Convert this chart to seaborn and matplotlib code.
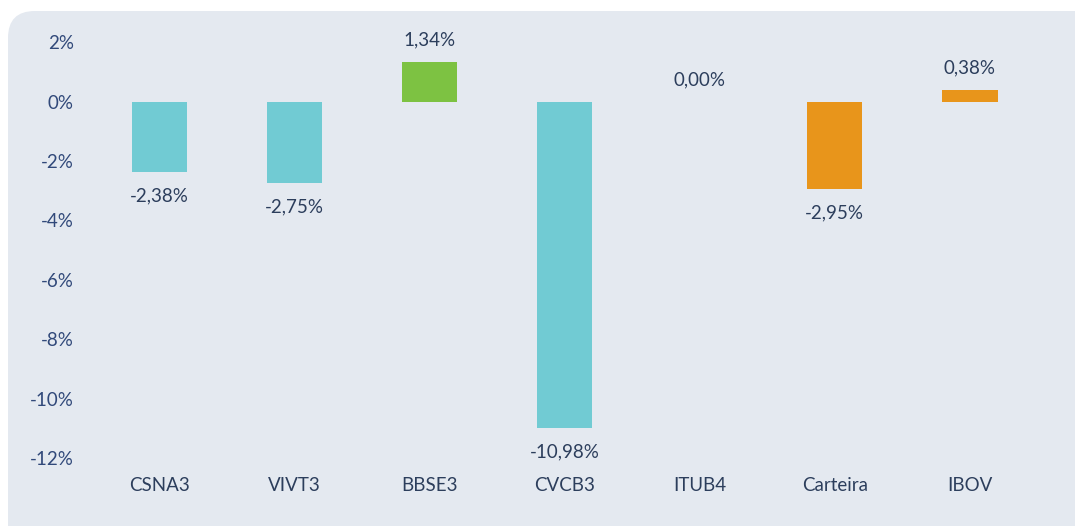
import matplotlib
matplotlib.use("Agg")
import matplotlib.pyplot as plt
from matplotlib.patches import FancyBboxPatch
import pandas as pd
import seaborn as sns

# data
tickers = ["CSNA3", "VIVT3", "BBSE3", "CVCB3", "ITUB4", "Carteira", "IBOV"]
returns = [-2.38, -2.75, 1.34, -10.98, 0.00, -2.95, 0.38]
bar_colors = ["#71CBD3", "#71CBD3", "#7DC242", "#71CBD3", "#71CBD3", "#E8951B", "#E8951B"]
y_ticks = [2, 0, -2, -4, -6, -8, -10, -12]

TEXT = "#2C3E5C"
TICK = "#31497A"
PANEL = "#E4E9F0"

sns.set_theme(style="white")
plt.rcParams["font.family"] = ["Lato", "DejaVu Sans"]

df = pd.DataFrame({"ticker": tickers, "ret": returns})

fig = plt.figure(figsize=(10.75, 5.26), dpi=100)
fig.patch.set_facecolor("white")

# rounded grey panel behind the chart
W, H = 1075, 526
panel = FancyBboxPatch((8 / W, -0.05), 1.1, 1 - 11 / H + 0.05,
                       boxstyle="round,pad=0,rounding_size=0.025",
                       transform=fig.transFigure, facecolor=PANEL,
                       edgecolor="none", zorder=-1, mutation_aspect=W / H)
fig.patches.append(panel)

ax = fig.add_axes([0.0856, 0.1125, 0.965 - 0.0856, 0.9538 - 0.1125])
ax.set_facecolor("none")

sns.barplot(data=df, x="ticker", y="ret", hue="ticker",
            palette=dict(zip(tickers, bar_colors)), legend=False,
            width=0.41, saturation=1, linewidth=0, ax=ax)

for i, v in enumerate(returns):
    label = f"{v:.2f}%".replace(".", ",")
    off = 22 if v >= 0 else -24
    ax.annotate(label, (i, v), xytext=(0, off), textcoords="offset pixels",
                ha="center", va="center", color=TEXT, fontsize=13.5)

ax.set_ylim(-12.3, 2.6)
ax.set_xlim(-0.5, len(tickers) - 0.5)
ax.set_yticks(y_ticks)
ax.set_yticklabels([f"{t}%" for t in y_ticks])
ax.tick_params(axis="y", length=0, pad=13, labelsize=13.5, labelcolor=TICK)
ax.tick_params(axis="x", length=0, pad=7, labelsize=13.5, labelcolor=TEXT)
ax.set_xlabel("")
ax.set_ylabel("")
sns.despine(ax=ax, left=True, bottom=True)
ax.grid(False)

fig.savefig("out.png", dpi=100)
